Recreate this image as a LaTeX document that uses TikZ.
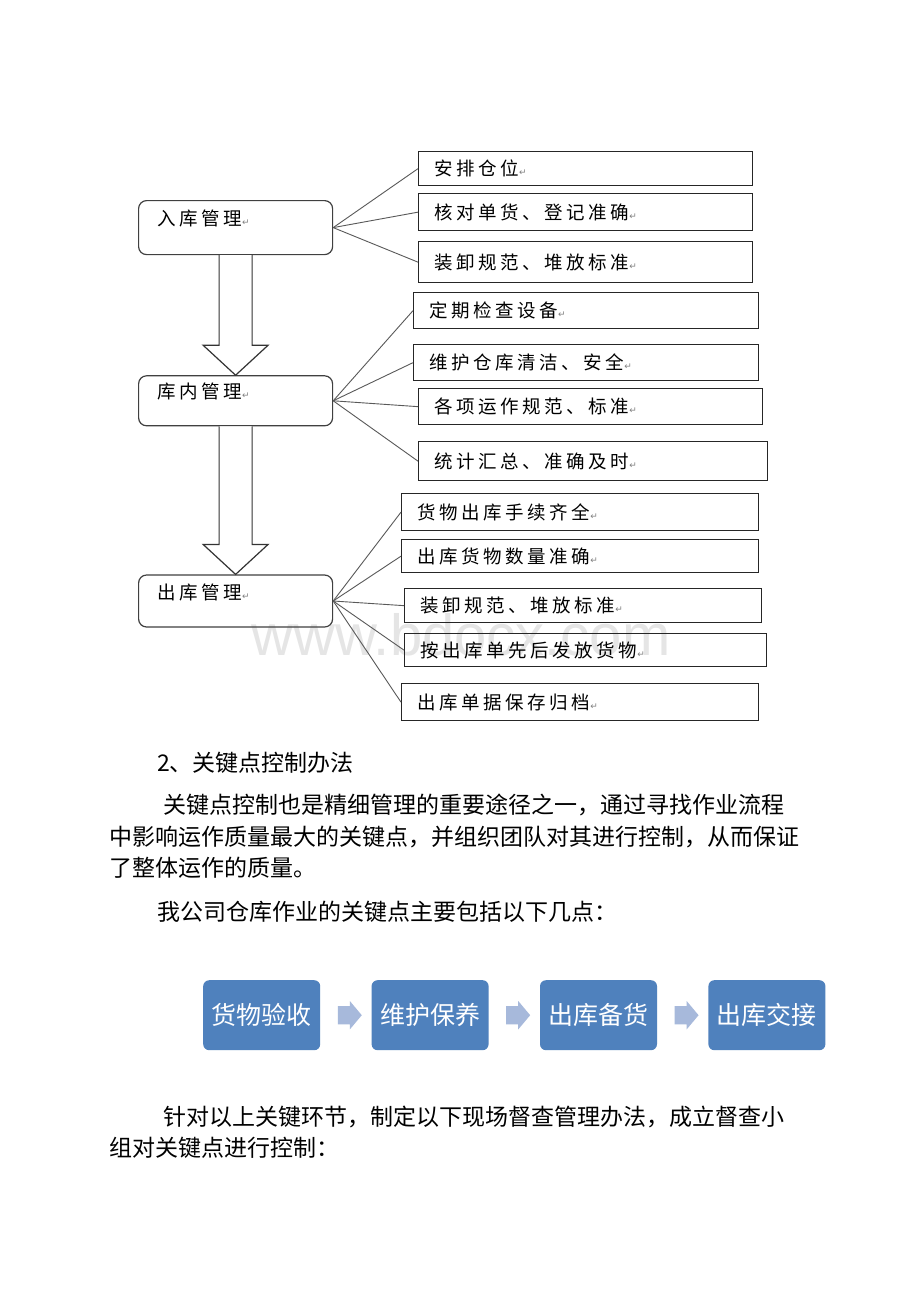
\documentclass[tikz,border=0pt]{standalone}
\usepackage{fontspec}
\setmainfont{Noto Sans CJK SC}
\newfontfamily\boxfont[LetterSpace=19]{Noto Sans CJK SC}
\newfontfamily\symfont{DejaVu Sans}
\newfontfamily\wmfont{Liberation Sans}
\usetikzlibrary{positioning,shapes.arrows,calc}
\definecolor{boxblue}{RGB}{79,129,189}
\definecolor{chevblue}{RGB}{167,185,219}
\newcommand{\ret}{{\symfont\fontsize{9pt}{9pt}\selectfont\color{gray}↵}}
\newcommand{\bigarrow}[2]{\draw[hollow] ($(#1.south)+(-16.5,0)$) -- ($(#2.north)+(-16.5,-30)$) -- ($(#2.north)+(-32.5,-30)$) -- (#2.north) -- ($(#2.north)+(32.5,-30)$) -- ($(#2.north)+(16.5,-30)$) -- ($(#1.south)+(16.5,0)$);}

\begin{document}
\begin{tikzpicture}[x=1pt, y=-1pt, node distance={51pt},
    lbox/.style = {draw=black!75, line width=1.2pt, rounded corners=8pt, anchor=north west, text width=156pt, inner xsep=19pt, inner ysep=0pt, align=left, text height=13pt, text depth=17pt, font=\boxfont\fontsize{18.5}{19}\selectfont},
    rbox/.style = {draw=black!85, line width=1.3pt, rectangle, anchor=north west, inner xsep=16pt, inner ysep=0pt, align=left, font=\boxfont\fontsize{18.5}{19}\selectfont},
    link/.style = {draw=black!65, line width=0.9pt},
    hollow/.style = {draw=black!80, line width=1.2pt, fill=white},
    flow/.style = {fill=boxblue, rounded corners=6pt, minimum width=117pt, minimum height=70pt, text=white, inner sep=0pt, font=\fontsize{25}{25}\selectfont},
    chev/.style = {single arrow, fill=chevblue, minimum height=24pt, inner xsep=0pt, inner ysep=9pt, single arrow head extend=5pt, single arrow tip angle=100},
    body/.style = {anchor=west, inner sep=0pt, font=\fontsize{23}{23}\selectfont}
    ]
\path[fill=white, use as bounding box] (0,0) rectangle (920,1302);
\node[text=black!10, font=\wmfont\fontsize{58}{58}\selectfont, anchor=base, inner sep=0pt] (31) at (461,655) {www.bdocx.com};

\node[lbox, minimum height=54pt] (0) at (138,200) {入库管理\ret};
\node[lbox, minimum height=50pt] (1) [below=120pt of 0] {库内管理\ret};
\node[lbox, minimum height=52pt] (2) [below=148pt of 1] {出库管理\ret};

\node[rbox, text width=302pt, minimum height=34pt] (3) at (418,151) {安排仓位\ret};
\node[rbox, text width=302pt, minimum height=37pt] (4) at (418,193) {核对单货、登记准确\ret};
\node[rbox, text width=302pt, minimum height=41pt] (5) at (418,241) {装卸规范、堆放标准\ret};
\node[rbox, text width=313pt, minimum height=36pt] (6) at (413,292) {定期检查设备\ret};
\node[rbox, text width=313pt, minimum height=36pt] (7) at (413,344) {维护仓库清洁、安全\ret};
\node[rbox, text width=312pt, minimum height=36pt] (8) at (418,388) {各项运作规范、标准\ret};
\node[rbox, text width=317pt, minimum height=39pt] (9) at (418,441) {统计汇总、准确及时\ret};
\node[rbox, text width=325pt, minimum height=37pt] (10) at (401,493) {货物出库手续齐全\ret};
\node[rbox, text width=325pt, minimum height=33pt] (11) at (401,539) {出库货物数量准确\ret};
\node[rbox, text width=325pt, minimum height=34pt] (12) at (404,588) {装卸规范、堆放标准\ret};
\node[rbox, text width=330pt, minimum height=33pt] (13) at (404,633) {按出库单先后发放货物\ret};
\node[rbox, text width=325pt, minimum height=37pt] (14) at (401,683) {出库单据保存归档\ret};

\bigarrow{0}{1}
\bigarrow{1}{2}

\draw[link] (0.east) -- (3.west);
\draw[link] (0.east) -- (4.west);
\draw[link] (0.east) -- (5.west);
\draw[link] (1.east) -- (6.west);
\draw[link] (1.east) -- (7.west);
\draw[link] (1.east) -- (8.west);
\draw[link] (1.east) -- (9.west);
\draw[link] (2.east) -- (10.west);
\draw[link] (2.east) -- (11.west);
\draw[link] (2.east) -- (12.west);
\draw[link] (2.east) -- (13.west);
\draw[link] (2.east) -- (14.west);

\node[body] (24) at (157,763) {2、关键点控制办法};
\node[body] (25) at (163,805) {关键点控制也是精细管理的重要途径之一，通过寻找作业流程};
\node[body] (26) at (109,837) {中影响运作质量最大的关键点，并组织团队对其进行控制，从而保证};
\node[body] (27) at (109,868) {了整体运作的质量。};
\node[body] (28) at (157,912) {我公司仓库作业的关键点主要包括以下几点：};

\node[flow, anchor=north west] (15) at (203,980) {货物验收};
\node[flow] (16) [right=of 15] {维护保养};
\node[flow] (17) [right=of 16] {出库备货};
\node[flow] (18) [right=of 17] {出库交接};
\node[chev] (19) at ($(15.east)!0.5!(16.west)$) {};
\node[chev] (20) at ($(16.east)!0.5!(17.west)$) {};
\node[chev] (21) at ($(17.east)!0.5!(18.west)$) {};

\node[body] (29) at (163,1117) {针对以上关键环节，制定以下现场督查管理办法，成立督查小};
\node[body] (30) at (109,1148) {组对关键点进行控制：};

\end{tikzpicture}
\end{document}
